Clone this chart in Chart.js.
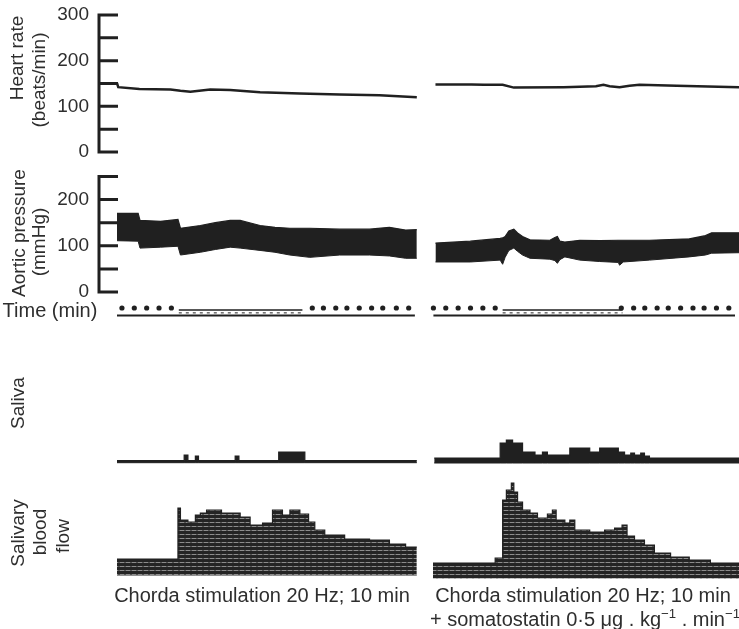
<!DOCTYPE html>
<html>
<head>
<meta charset="utf-8">
<script src="https://cdn.jsdelivr.net/npm/chart.js@4.4.1/dist/chart.umd.min.js"></script>
<style>
  body { margin: 0; background: #fff; }
  #wrap { position: relative; width: 739px; height: 629px; overflow: hidden;
          font-family: 'Liberation Sans', Arial, sans-serif; color: #2e2e2e; }
  canvas { position: absolute; left: 0; }
  .lab { position: absolute; white-space: nowrap; line-height: 1; font-size: 19px;
         transform: translate(-50%, -50%); }
  .rot { transform: translate(-50%, -50%) rotate(-90deg); }
  .cap { font-size: 20px; }
  sup { font-size: 0.66em; vertical-align: 0; position: relative; top: -0.6em; }
</style>
</head>
<body>
<div id="wrap">
  <canvas id="hr" width="739" height="165" style="top:0px"></canvas>
  <canvas id="ap" width="739" height="145" style="top:165px"></canvas>
  <canvas id="tm" width="739" height="25" style="top:300px"></canvas>
  <canvas id="sa" width="739" height="150" style="top:325px"></canvas>
  <canvas id="bf" width="739" height="110" style="top:475px"></canvas>

  <div class="lab rot" style="left:16px;top:58px">Heart rate</div>
  <div class="lab rot" style="left:38px;top:80px">(beats/min)</div>
  <div class="lab rot" style="left:18px;top:233px">Aortic pressure</div>
  <div class="lab rot" style="left:38px;top:242px">(mmHg)</div>
  <div class="lab" style="left:50px;top:310px;font-size:20px">Time (min)</div>
  <div class="lab rot" style="left:17px;top:403px">Saliva</div>
  <div class="lab rot" style="left:17px;top:533px">Salivary</div>
  <div class="lab rot" style="left:39px;top:532px">blood</div>
  <div class="lab rot" style="left:62px;top:536px">flow</div>

  <div class="lab cap" style="left:262px;top:595px">Chorda stimulation 20 Hz; 10 min</div>
  <div class="lab cap" style="left:583px;top:595px">Chorda stimulation 20 Hz; 10 min</div>
  <div class="lab cap" style="left:585px;top:619px">+ somatostatin 0·5 μg . kg<sup>−1</sup> . min<sup>−1</sup></div>
</div>

<script>
// time axis is in minutes; left record then right record (after a break)
const X_MAX = 50;

// heart rate (beats/min)
const hrLeftT = [0, 0.1, 1.8, 4.3, 5.1, 5.9, 7.5, 9.1, 11.5, 14.7, 17.9, 21.1, 24.1];
const hrLeftV = [151, 142, 138, 137, 134, 132, 137, 136, 131, 128, 126, 124, 120];
const hrRightT = [25.6, 28.5, 29.5, 31.0, 31.9, 35.9, 38.5, 39.1, 39.6, 40.4, 41.2, 42.0, 45, 50];
const hrRightV = [148, 148, 147, 147, 141, 142, 144, 147, 144, 142, 145, 147, 145, 142];

// aortic pressure envelope (mmHg): systolic top / diastolic bottom
const apLeftT = [0, 1.7, 1.85, 3.5, 4.9, 5.1, 6.7, 7.9, 9.1, 9.9, 11.5, 12.7, 13.9, 15.5, 17.9, 20.3, 21.9, 23.2, 24.1];
const apLeftTop = [170, 170, 155, 153, 157, 138, 144, 150, 155, 155, 144, 140, 138, 138, 136, 136, 140, 134, 135];
const apLeftBot = [111, 110, 95, 97, 99, 80, 86, 92, 97, 95, 90, 86, 80, 75, 80, 80, 78, 73, 73];
const apRightT = [25.6, 28.4, 30.8, 31.0, 31.2, 31.5, 31.9, 32.2, 32.6, 33.2, 34.8, 35.2, 35.4, 35.6, 36.0, 37.2, 38.8, 40.3, 40.4, 40.7, 42.8, 46.0, 47.3, 47.8, 50];
const apRightTop = [106, 110, 116, 117, 120, 132, 136, 128, 120, 113, 112, 118, 120, 110, 108, 112, 111, 112, 112, 112, 112, 115, 122, 128, 128];
const apRightBot = [65, 65, 69, 60, 75, 90, 95, 88, 80, 73, 71, 68, 62, 70, 76, 69, 66, 64, 58, 65, 69, 76, 80, 84, 85];

// time marker: one dot per minute, stimulation periods, base lines
const timeDots = [0.4, 1.4, 2.4, 3.4, 4.4, 15.8, 16.7, 17.7, 18.6, 19.6, 20.6, 21.5, 22.6, 23.6,
                  25.6, 26.6, 27.6, 28.6, 29.6, 30.6, 40.8, 41.8, 42.7, 43.7, 44.6, 45.6, 46.6, 47.5, 48.5, 49.5];
const recordSpans = [[0, 24.1], [25.6, 50]];
const stimSpans = [[5.0, 15.0], [31.2, 40.9]];

// saliva (arbitrary units, stepped record)
const salLeftT = [0, 5.4, 5.7, 6.3, 6.55, 9.5, 9.8, 13.0, 15.1, 24.1];
const salLeftTop = [2.3, 8, 2.3, 7, 2.3, 7, 2.3, 11, 2.3, 2.3];
const salLeftBot = [0.3, 0.3, 0.3, 0.3, 0.3, 0.3, 0.3, 0.3, 0.3, 0.3];
const salRightT = [25.5, 30.8, 31.3, 31.8, 32.6, 33.6, 34.2, 34.6, 36.4, 38.0, 38.8, 40.3, 40.8, 41.3, 41.6, 42.1, 42.4, 42.8, 50];
const salRightTop = [5, 20, 23, 20, 11, 8, 11, 8, 15, 11, 15, 11, 8, 10, 8, 10, 7, 5, 5];

// salivary blood flow (arbitrary units, stepped record)
const bfLeftT = [0, 4.9, 5.1, 5.7, 6.3, 6.7, 7.2, 8.4, 9.9, 10.7, 11.7, 12.5, 13.3, 13.9, 14.7, 15.4, 15.9, 16.7, 18.3, 20.3, 21.9, 23.2, 24.1];
const bfLeftTop = [21, 72, 60, 58, 65, 67, 70, 67, 63, 55, 57, 70, 65, 70, 66, 58, 50, 45, 41, 40, 36, 33, 33];
const bfRightT = [25.4, 30.4, 31.0, 31.3, 31.7, 31.9, 32.2, 32.6, 33.2, 33.8, 34.6, 35.0, 35.3, 36.0, 36.4, 36.8, 38.0, 39.2, 40.0, 40.6, 41.0, 41.6, 42.4, 43.2, 44.5, 46.0, 47.7, 50];
const bfRightTop = [17, 22, 80, 90, 97, 88, 78, 70, 67, 62, 66, 70, 60, 57, 60, 50, 48, 50, 52, 55, 44, 40, 35, 27, 23, 20, 17, 15];
const bfLeftBase = 5;
const bfRightBase = 2;

const INK = '#202020';
Chart.defaults.font.family = "'Liberation Sans', Arial, sans-serif";
Chart.defaults.color = '#2e2e2e';

const pts = (xs, ys) => xs.map((x, i) => ({x: x, y: Array.isArray(ys) ? ys[i] : ys}));

function stripes() {
  const c = document.createElement('canvas');
  c.width = 6; c.height = 4;
  const g = c.getContext('2d');
  g.fillStyle = '#242424'; g.fillRect(0, 0, 6, 4);
  g.fillStyle = '#8c8c8c'; g.fillRect(0, 3, 4, 1);
  g.fillStyle = '#555'; g.fillRect(4, 3, 2, 1);
  return g.createPattern(c, 'repeat');
}

// axis drawn like the original: spine left of the plot, ticks pointing right
const spinePlugin = {
  id: 'spine',
  afterDraw(chart, args, opts) {
    if (!opts.show) return;
    const {ctx, chartArea} = chart;
    const y = chart.scales.y;
    const x0 = chartArea.left - 18;
    ctx.save();
    ctx.strokeStyle = INK;
    ctx.lineWidth = 3;
    ctx.beginPath();
    ctx.moveTo(x0, y.getPixelForValue(y.max) - 1.5);
    ctx.lineTo(x0, y.getPixelForValue(0) + 1.5);
    for (let v = 0; v <= y.max; v += 50) {
      const py = y.getPixelForValue(v);
      ctx.moveTo(x0, py);
      ctx.lineTo(chartArea.left + 1, py);
    }
    ctx.stroke();
    ctx.restore();
  }
};

function makeChart(id, datasets, yMin, yMax, padTop, padBottom, withAxis) {
  return new Chart(document.getElementById(id), {
    type: 'line',
    data: {datasets: datasets},
    options: {
      responsive: false,
      animation: false,
      events: [],
      layout: {padding: {top: padTop, bottom: padBottom, left: 0, right: 0}},
      elements: {point: {radius: 0}, line: {tension: 0}},
      scales: {
        x: {type: 'linear', min: 0, max: X_MAX, display: false},
        y: {
          min: yMin, max: yMax,
          grid: {display: false, drawTicks: false},
          border: {display: false},
          ticks: {
            display: withAxis,
            stepSize: 50,
            padding: 28,
            font: {size: 19},
            color: '#2e2e2e',
            callback: v => (v % 100 === 0 ? v : '')
          },
          afterFit: s => { s.width = 117; s.paddingTop = 0; s.paddingBottom = 0; }
        }
      },
      plugins: {
        legend: {display: false},
        tooltip: {enabled: false},
        spine: {show: withAxis}
      }
    },
    plugins: [spinePlugin]
  });
}

const line = (data, w) => ({data: data, borderColor: INK, borderWidth: w, fill: false, clip: false, pointRadius: 0});
const band = (xs, lo, hi, color, stepped) => [
  {data: pts(xs, lo), borderColor: color, borderWidth: 1, fill: false, clip: false, stepped: stepped},
  {data: pts(xs, hi), borderColor: INK, borderWidth: 1.2, backgroundColor: color, fill: '-1', clip: false, stepped: stepped}
];

// heart rate
makeChart('hr', [
  line(pts(hrLeftT, hrLeftV), 2.5),
  line(pts(hrRightT, hrRightV), 2.5)
], 0, 300, 15, 13, true);

// aortic pressure
makeChart('ap', [
  ...band(apLeftT, apLeftBot, apLeftTop, INK, false),
  ...band(apRightT, apRightBot, apRightTop, INK, false)
], 0, 250, 11.5, 18, true);

// time marker
const tmSets = [];
recordSpans.forEach(s => tmSets.push(line(pts(s, 0), 2.2)));
stimSpans.forEach(s => {
  tmSets.push(line(pts(s, 0.75), 1.5));
  tmSets.push(Object.assign(line(pts(s, 0.35), 1), {borderDash: [3, 4]}));
});
tmSets.push({data: pts(timeDots, 1), showLine: false, pointRadius: 2.6,
             pointBackgroundColor: INK, pointBorderWidth: 0, clip: false});
makeChart('tm', tmSets, 0, 1, 8, 9.5, false);

// saliva
makeChart('sa', [
  ...band(salLeftT, salLeftBot, salLeftTop, INK, true),
  ...band(salRightT, salRightT.map(() => 0), salRightTop, INK, true)
], 0, 100, 38, 12, false);

// salivary blood flow
const hatch = stripes();
makeChart('bf', [
  ...band(bfLeftT, bfLeftT.map(() => bfLeftBase), bfLeftTop, hatch, true),
  ...band(bfRightT, bfRightT.map(() => bfRightBase), bfRightTop, hatch, true)
], 0, 100, 5, 5, false);
</script>
</body>
</html>
